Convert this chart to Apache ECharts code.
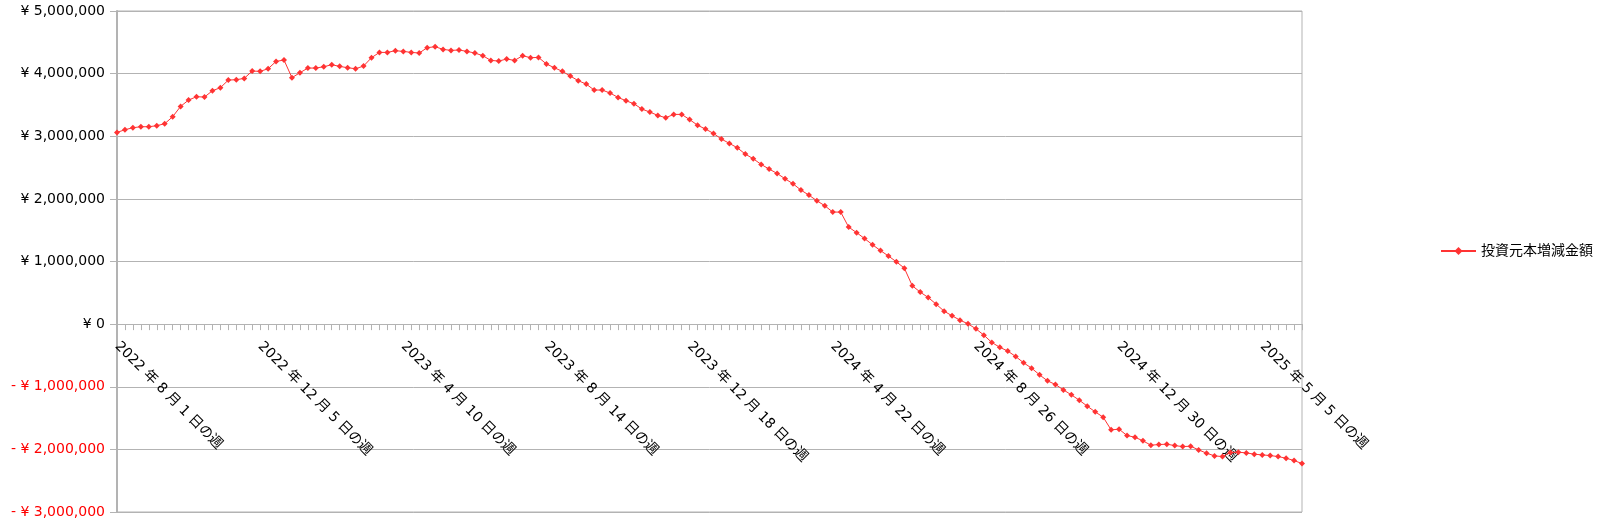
<!DOCTYPE html>
<html>
<head>
<meta charset="utf-8">
<script src="https://cdn.jsdelivr.net/npm/echarts@6/dist/echarts.min.js"></script>
<style>
  html, body { margin: 0; padding: 0; background: #fff; }
  #myChart { width: 1600px; height: 525px; }
</style>
</head>
<body>
<div id="myChart"></div>
<script>
  // 週の開始日 (2022/8/1 から 150 週)
  var startDate = [2022, 8, 1];
  var weekCount = 150;

  var seriesName = '投資元本増減金額';

  // 投資元本増減金額 (円)
  var amounts = [
    3061000, 3104000, 3136000, 3152000, 3152000, 3168000, 3200000, 3312000, 3477000, 3578000,
    3631000, 3626000, 3727000, 3775000, 3897000, 3903000, 3924000, 4041000, 4036000, 4078000,
    4195000, 4217000, 3935000, 4014000, 4089000, 4089000, 4110000, 4142000, 4116000, 4094000,
    4078000, 4121000, 4254000, 4339000, 4339000, 4366000, 4355000, 4339000, 4329000, 4414000,
    4430000, 4387000, 4371000, 4377000, 4355000, 4329000, 4286000, 4211000, 4201000, 4233000,
    4211000, 4286000, 4254000, 4259000, 4153000, 4094000, 4036000, 3961000, 3887000, 3833000,
    3738000, 3738000, 3690000, 3620000, 3567000, 3519000, 3434000, 3386000, 3333000, 3296000,
    3349000, 3349000, 3266000, 3176000, 3115000, 3045000, 2955000, 2886000, 2816000, 2715000,
    2641000, 2550000, 2476000, 2406000, 2321000, 2241000, 2140000, 2060000, 1970000, 1890000,
    1789000, 1789000, 1549000, 1461000, 1366000, 1267000, 1174000, 1088000, 995000, 894000,
    612000, 511000, 425000, 319000, 207000, 133000, 63000, 5000, -75000, -176000,
    -293000, -370000, -430000, -517000, -618000, -703000, -810000, -906000, -964000, -1050000,
    -1129000, -1215000, -1310000, -1401000, -1486000, -1688000, -1678000, -1779000, -1806000, -1864000,
    -1933000, -1923000, -1917000, -1940000, -1955000, -1950000, -2008000, -2061000, -2104000, -2115000,
    -2051000, -2045000, -2056000, -2077000, -2088000, -2099000, -2115000, -2141000, -2178000, -2226000
  ];

  var yMin = -3000000;
  var yMax = 5000000;
  var yStep = 1000000;

  var weeks = [];
  for (var i = 0; i < weekCount; i++) {
    var d = new Date(startDate[0], startDate[1] - 1, startDate[2] + i * 7);
    weeks.push(d.getFullYear() + ' 年 ' + (d.getMonth() + 1) + ' 月 ' + d.getDate() + ' 日の週');
  }

  var font = '"DejaVu Sans", "Noto Sans CJK JP", sans-serif';

  function yen(v) {
    if (v === 0) return '¥ 0';
    var s = '¥ ' + Math.abs(v).toLocaleString('en-US');
    return v < 0 ? '{neg|- ' + s + '}' : s;
  }

  var gridTop = 11;
  var gridBottom = 13;
  var gridHeight = 525 - gridTop - gridBottom;
  // x軸をゼロの位置まで持ち上げる
  var zeroOffset = -gridHeight * (0 - yMin) / (yMax - yMin);

  var myChart = echarts.init(document.getElementById('myChart'));
  var option = {
    backgroundColor: '#ffffff',
    animation: false,
    textStyle: { fontFamily: font },
    grid: {
      left: 117,
      right: 298,
      top: gridTop,
      bottom: gridBottom,
      outerBoundsMode: 'none',
      containLabel: false,
      show: true,
      borderColor: '#b3b3b3',
      borderWidth: 1
    },
    legend: {
      data: [seriesName],
      orient: 'vertical',
      left: 1435,
      top: 239,
      itemWidth: 35,
      itemHeight: 10,
      itemGap: 5,
      textStyle: { color: '#000', fontSize: 14, fontFamily: font }
    },
    xAxis: {
      type: 'category',
      data: weeks,
      boundaryGap: false,
      position: 'bottom',
      offset: zeroOffset,
      axisLine: {
        onZero: false,
        lineStyle: { color: '#b3b3b3', width: 1 }
      },
      axisTick: {
        show: true,
        interval: 0,
        length: 6,
        lineStyle: { color: '#b3b3b3' }
      },
      axisLabel: {
        interval: 17,
        rotate: -45,
        margin: 20,
        color: '#000',
        fontSize: 14,
        fontFamily: font
      },
      splitLine: { show: false }
    },
    yAxis: {
      type: 'value',
      min: yMin,
      max: yMax,
      interval: yStep,
      axisLine: {
        show: true,
        lineStyle: { color: '#b3b3b3', width: 2 }
      },
      axisTick: {
        show: true,
        length: 7,
        lineStyle: { color: '#b3b3b3' }
      },
      axisLabel: {
        margin: 12,
        color: '#000',
        fontSize: 14,
        fontFamily: font,
        formatter: yen,
        rich: {
          neg: { color: '#ff0000', fontSize: 14, fontFamily: font }
        }
      },
      splitLine: {
        show: true,
        lineStyle: { color: '#b3b3b3', width: 1 }
      }
    },
    series: [{
      name: seriesName,
      type: 'line',
      data: amounts,
      symbol: 'diamond',
      symbolSize: 6,
      showAllSymbol: true,
      lineStyle: { color: '#ff3333', width: 1 },
      itemStyle: { color: '#ff3333' }
    }]
  };
  myChart.setOption(option);
</script>
</body>
</html>
